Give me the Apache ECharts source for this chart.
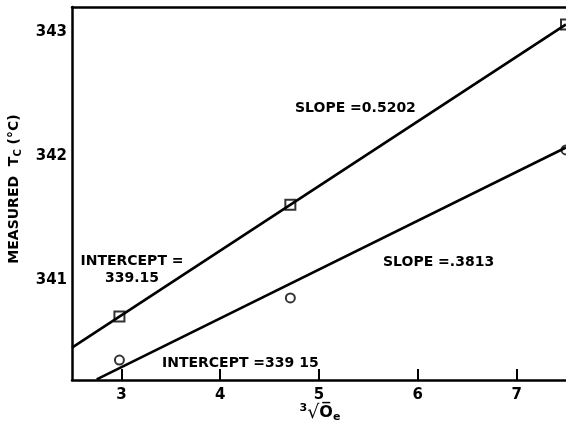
<!DOCTYPE html>
<html><head><meta charset="utf-8">
<script src="https://cdn.jsdelivr.net/npm/echarts@6/dist/echarts.min.js"></script>
<style>html,body{margin:0;padding:0;background:#fff}#c{width:566px;height:438px}</style>
</head><body><div id="c"></div>
<script>
const xTicks = [3, 4, 5, 6, 7];
const yTicks = [341, 342, 343];
const upperX = [2.98, 4.71, 7.5];
const upperY = [340.71, 341.61, 343.06];
const lowerX = [2.98, 4.71, 7.5];
const lowerY = [340.36, 340.86, 342.05];
const upperFitX = [2.5, 7.5];
const upperFitY = [340.46, 343.06];
const lowerFitX = [2.75, 7.5];
const lowerFitY = [340.205, 342.07];

const FONT = 'DejaVu Sans';
const chart = echarts.init(document.getElementById('c'), null, {renderer: 'canvas'});
const pairs = (xs, ys) => xs.map((x, i) => [x, ys[i]]);
const annFont = 'bold 14px "DejaVu Sans"';
chart.setOption({
  animation: false,
  backgroundColor: '#fff',
  grid: {left: 72, right: -6, top: 7, bottom: 58},
  xAxis: [{
    type: 'value', min: 2.5, max: 7.5,
    axisLine: {show: true, onZero: false, lineStyle: {color: '#000', width: 2.5}},
    axisTick: {show: true, inside: true, length: 11, lineStyle: {color: '#000', width: 2}, customValues: xTicks},
    axisLabel: {color: '#000', fontFamily: FONT, fontWeight: 'bold', fontSize: 15, margin: 8, customValues: xTicks},
    splitLine: {show: false}
  }, {
    type: 'value', position: 'top', min: 2.5, max: 7.5,
    axisLine: {show: true, lineStyle: {color: '#000', width: 2.5}},
    axisTick: {show: false}, axisLabel: {show: false}, splitLine: {show: false}
  }],
  yAxis: {
    type: 'value', min: 340.2, max: 343.2,
    axisLine: {show: true, onZero: false, lineStyle: {color: '#000', width: 2.5}},
    axisTick: {show: false},
    axisLabel: {color: '#000', fontFamily: FONT, fontWeight: 'bold', fontSize: 15, margin: 5, customValues: yTicks},
    splitLine: {show: false}
  },
  series: [
    {type: 'line', data: pairs(upperFitX, upperFitY), symbol: 'none', lineStyle: {color: '#000', width: 2.6}, clip: true},
    {type: 'line', data: pairs(lowerFitX, lowerFitY), symbol: 'none', lineStyle: {color: '#000', width: 2.6}, clip: true},
    {type: 'scatter', data: pairs(upperX, upperY), symbol: 'rect', symbolSize: 10, clip: false,
      itemStyle: {color: '#fff', borderColor: '#000', borderWidth: 2}},
    {type: 'scatter', data: pairs(lowerX, lowerY), symbol: 'circle', symbolSize: 9, clip: false,
      itemStyle: {color: '#fff', borderColor: '#000', borderWidth: 2}}
  ],
  graphic: [
    {type: 'text', x: 295, y: 108, style: {text: 'SLOPE =0.5202', font: annFont, fill: '#000', verticalAlign: 'middle'}},
    {type: 'text', x: 383, y: 262, style: {text: 'SLOPE =.3813', font: annFont, fill: '#000', verticalAlign: 'middle'}},
    {type: 'text', x: 132, y: 270, style: {text: 'INTERCEPT =\n339.15', font: annFont, fill: '#000', align: 'center', verticalAlign: 'middle', lineHeight: 17}},
    {type: 'text', x: 162, y: 363, style: {text: 'INTERCEPT =339 15', font: annFont, fill: '#000', verticalAlign: 'middle'}},
    {type: 'text', x: 320, y: 413, style: {
      text: '{s|3}{r|√}{o|O̅}{e|e}', align: 'center', verticalAlign: 'middle',
      rich: {
        s: {fontFamily: FONT, fontSize: 11, fontWeight: 'bold', fill: '#000', padding: [0, 0, 10, 0]},
        r: {fontFamily: FONT, fontSize: 19, fill: '#000'},
        o: {fontFamily: FONT, fontSize: 16, fontWeight: 'bold', fill: '#000'},
        e: {fontFamily: FONT, fontSize: 11, fontWeight: 'bold', fill: '#000', padding: [9, 0, 0, 0]}
      }}},
    {type: 'text', x: 14, y: 189, rotation: Math.PI / 2, style: {
      text: '{a|MEASURED  T}{c|C}{a| (°C)}', align: 'center', verticalAlign: 'middle',
      rich: {
        a: {fontFamily: FONT, fontSize: 14, fontWeight: 'bold', fill: '#000'},
        c: {fontFamily: FONT, fontSize: 10, fontWeight: 'bold', fill: '#000', padding: [8, 0, 0, 0]}
      }}}
  ]
});
</script></body></html>
